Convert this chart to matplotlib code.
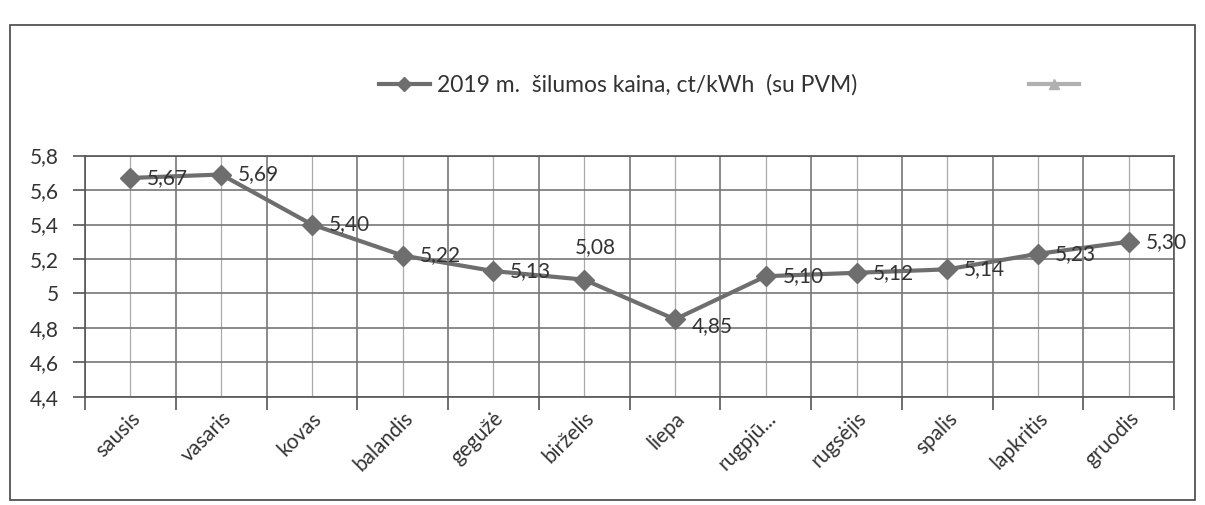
import matplotlib
matplotlib.use("Agg")
import matplotlib.pyplot as plt
import numpy as np
from matplotlib.patches import Rectangle
from matplotlib.lines import Line2D

months = ["sausis", "vasaris", "kovas", "balandis", "gegužė", "birželis",
          "liepa", "rugpjū...", "rugsėjis", "spalis", "lapkritis", "gruodis"]
price = [5.67, 5.69, 5.40, 5.22, 5.13, 5.08, 4.85, 5.10, 5.12, 5.14, 5.23, 5.30]
value_labels = ["5,67", "5,69", "5,40", "5,22", "5,13", "5,08",
                "4,85", "5,10", "5,12", "5,14", "5,23", "5,30"]
yticks = [4.4, 4.6, 4.8, 5.0, 5.2, 5.4, 5.6, 5.8]
ytick_labels = ["4,4", "4,6", "4,8", "5", "5,2", "5,4", "5,6", "5,8"]
series_name = "2019 m.  šilumos kaina, ct/kWh  (su PVM)"

plt.rcParams['font.family'] = ['Lato', 'DejaVu Sans']
text_color = '#333333'

fig = plt.figure(figsize=(12.05, 5.05), dpi=100)
fig.patch.set_facecolor('white')
# outer chart border
fig.patches.append(Rectangle((0.008, 0.01), 0.984, 0.94, transform=fig.transFigure,
                             fill=False, edgecolor='#444444', linewidth=1.2))

ax = fig.add_axes([0.0705, 0.214, 0.904, 0.478])
x = np.arange(len(months))
line_color = '#6e6e6e'
ln, = ax.plot(x, price, color=line_color, linewidth=3, marker='D',
              markersize=10, markerfacecolor=line_color, markeredgecolor=line_color)

# data labels
for i, (v, s) in enumerate(zip(price, value_labels)):
    if i == 5:
        ax.annotate(s, (i, v), xytext=(8, 16), textcoords='offset points',
                    ha='center', va='bottom', fontsize=15, color=text_color)
    elif i == 6:
        ax.annotate(s, (i, v), xytext=(12, -5), textcoords='offset points',
                    ha='left', va='center', fontsize=15, color=text_color)
    else:
        ax.annotate(s, (i, v), xytext=(12, 0), textcoords='offset points',
                    ha='left', va='center', fontsize=15, color=text_color)

ax.set_xlim(-0.5, len(months) - 0.5)
ax.set_ylim(4.4, 5.8)
ax.set_yticks(yticks)
ax.set_yticklabels(ytick_labels, fontsize=15, color=text_color)

# major ticks at category boundaries, labels at centres
ax.set_xticks(np.arange(-0.5, len(months), 1.0))
ax.set_xticklabels([])
ax.set_xticks(x, minor=True)
ax.set_xticklabels(months, minor=True, rotation=45, ha='right', va='top',
                   rotation_mode='anchor', fontsize=15, color=text_color)
ax.tick_params(axis='x', which='major', length=9, width=1.2, color='#555555')
ax.tick_params(axis='x', which='minor', length=0, pad=8)
ax.tick_params(axis='y', length=9, width=1.2, color='#555555', pad=10)

ax.grid(True, which='major', axis='both', color='#777777', linewidth=1.2)
ax.grid(True, which='minor', axis='x', color='#aaaaaa', linewidth=0.9)
ax.set_axisbelow(True)
for sp in ax.spines.values():
    sp.set_color('#555555')
    sp.set_linewidth(1.2)

# legend: series entry plus an empty second series entry
main_handle = Line2D([], [], color=line_color, linewidth=3, marker='D', markersize=7)
empty = Line2D([], [], color='#b0b0b0', linewidth=3, marker='^', markersize=7)
fig.legend(handles=[main_handle, empty], labels=[series_name, ''], ncol=2,
           loc='center', bbox_to_anchor=(0.608, 0.832), frameon=False, fontsize=16.5,
           handlelength=2.2, columnspacing=7.5, handletextpad=0.3,
           labelcolor=text_color)

fig.savefig("out.png", dpi=100)
